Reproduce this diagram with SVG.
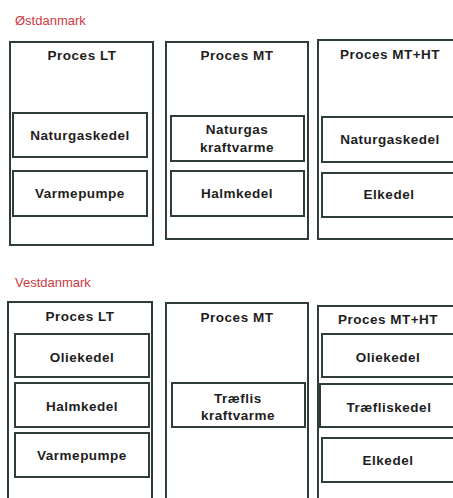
<svg xmlns="http://www.w3.org/2000/svg" width="453" height="498" viewBox="0 0 453 498">
<style>
.bx{fill:#ffffff;stroke:#2f3d3a;stroke-width:2}
.t{font-family:"Liberation Sans",Arial,sans-serif;font-weight:bold;font-size:13.5px;letter-spacing:0.5px;fill:#1e1e1e;text-anchor:middle}
.r{font-family:"Liberation Sans",Arial,sans-serif;font-size:13px;fill:#d0393f}
</style>
<rect width="453" height="498" fill="#ffffff"/>
<text class="r" x="15" y="25">Østdanmark</text>
<text class="r" x="15" y="287">Vestdanmark</text>

<g id="east-lt">
<rect class="bx" x="10" y="42" width="143" height="203"/>
<text class="t" x="82" y="60">Proces LT</text>
</g>
<g id="east-lt-naturgaskedel">
<rect class="bx" x="13" y="113" width="134" height="44"/>
<text class="t" x="80" y="140">Naturgaskedel</text>
</g>
<g id="east-lt-varmepumpe">
<rect class="bx" x="13" y="171" width="134" height="45"/>
<text class="t" x="80" y="198">Varmepumpe</text>
</g>

<g id="east-mt">
<rect class="bx" x="166" y="42" width="142" height="197"/>
<text class="t" x="237" y="60">Proces MT</text>
</g>
<g id="east-mt-naturgas-kraftvarme">
<rect class="bx" x="171" y="116" width="133" height="45"/>
<text class="t" x="237" y="134">Naturgas</text>
<text class="t" x="237" y="152">kraftvarme</text>
</g>
<g id="east-mt-halmkedel">
<rect class="bx" x="171" y="171" width="133" height="45"/>
<text class="t" x="237" y="198">Halmkedel</text>
</g>

<g id="east-mthtt">
<rect class="bx" x="318" y="40" width="200" height="199"/>
<text class="t" x="390" y="59">Proces MT+HT</text>
</g>
<g id="east-mtht-naturgaskedel">
<rect class="bx" x="322" y="117" width="200" height="45"/>
<text class="t" x="390" y="144">Naturgaskedel</text>
</g>
<g id="east-mtht-elkedel">
<rect class="bx" x="322" y="173" width="200" height="44"/>
<text class="t" x="389" y="199">Elkedel</text>
</g>

<g id="west-lt">
<rect class="bx" x="8" y="302" width="144" height="220"/>
<text class="t" x="80" y="321">Proces LT</text>
</g>
<g id="west-lt-oliekedel">
<rect class="bx" x="15" y="334" width="134" height="43"/>
<text class="t" x="82" y="362">Oliekedel</text>
</g>
<g id="west-lt-halmkedel">
<rect class="bx" x="15" y="383" width="134" height="44"/>
<text class="t" x="82" y="411">Halmkedel</text>
</g>
<g id="west-lt-varmepumpe">
<rect class="bx" x="15" y="433" width="134" height="44"/>
<text class="t" x="82" y="460">Varmepumpe</text>
</g>

<g id="west-mt">
<rect class="bx" x="166" y="303" width="142" height="220"/>
<text class="t" x="237" y="322">Proces MT</text>
</g>
<g id="west-mt-traeflis-kraftvarme">
<rect class="bx" x="172" y="383" width="133" height="44"/>
<text class="t" x="238" y="403">Træflis</text>
<text class="t" x="238" y="420">kraftvarme</text>
</g>

<g id="west-mtht">
<rect class="bx" x="318" y="306" width="200" height="220"/>
<text class="t" x="388" y="324">Proces MT+HT</text>
</g>
<g id="west-mtht-oliekedel">
<rect class="bx" x="322" y="334" width="200" height="43"/>
<text class="t" x="388" y="362">Oliekedel</text>
</g>
<g id="west-mtht-traefliskedel">
<rect class="bx" x="320" y="384" width="200" height="43"/>
<text class="t" x="389" y="412">Træfliskedel</text>
</g>
<g id="west-mtht-elkedel">
<rect class="bx" x="322" y="438" width="200" height="44"/>
<text class="t" x="388" y="465">Elkedel</text>
</g>
<g id="connectors"/>
</svg>
